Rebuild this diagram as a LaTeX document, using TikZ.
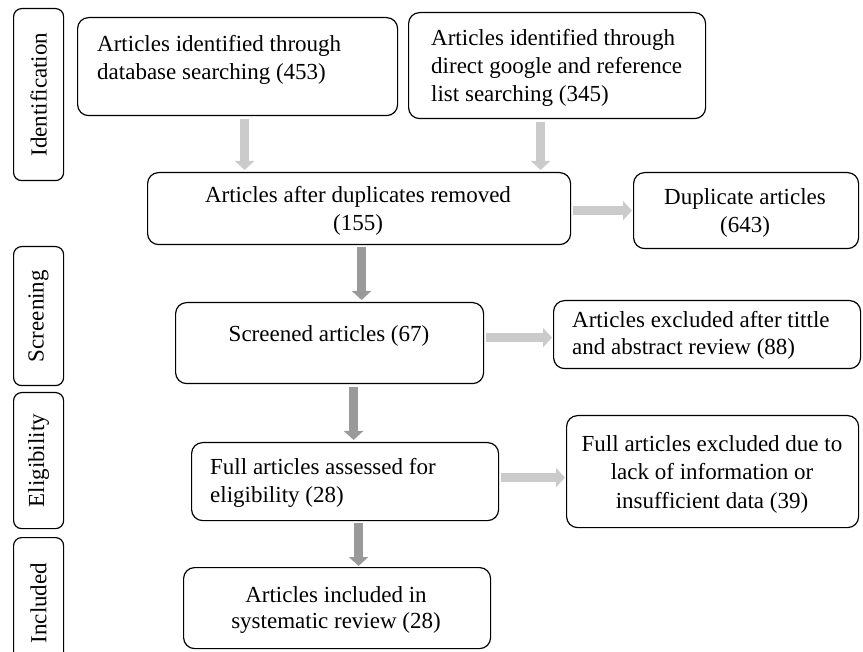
\documentclass[tikz,border=0pt]{standalone}
\usepackage{fontspec}
\setmainfont{Liberation Serif}
\usetikzlibrary{arrows.meta}
\definecolor{lightarrow}{HTML}{CBCBCB}
\definecolor{darkarrow}{HTML}{9A9A9A}
\definecolor{darkedge}{HTML}{7A7A7A}
\begin{document}
\begin{tikzpicture}[x=1pt,y=-1pt,
  box/.style={draw, line width=1.2pt, rounded corners=11pt, inner sep=0pt, anchor=north west},
  lab/.style={draw, line width=1.2pt, rounded corners=8pt, inner sep=0pt, anchor=north west, minimum width=50pt},
  txt/.style={inner sep=0pt, font=\fontsize{23}{28}\selectfont},
  ltxt/.style={txt, anchor=base west},
  ctxt/.style={txt, anchor=base},
  rtxt/.style={txt, rotate=90},
  larr/.style={draw=lightarrow, line width=9pt, -{Triangle[length=9pt,width=19pt]}, lightarrow},
  darr/.style={draw=darkarrow, line width=9pt, -{Triangle[length=9pt,width=19pt]}, darkarrow}
]
\useasboundingbox (0,0) rectangle (863,652);

% stage labels
\node[lab, minimum height=172pt] (L1) at (13,8) {};
\node[lab, minimum height=139pt] (L2) at (13,246) {};
\node[lab, minimum height=136pt] (L3) at (13,392) {};
\node[lab, minimum height=123pt] (L4) at (13,537) {};
\node[rtxt] (L1t) at (L1.center) {Identification};
\node[rtxt] (L2t) at (L2.center) {Screening};
\node[rtxt] (L3t) at (L3.center) {Eligibility};
\node[rtxt] (L4t) at ([yshift=-4pt]L4.center) {Included};

% boxes
\node[box, minimum width=320pt, minimum height=98pt] (A) at (77,17) {};
\node[box, minimum width=297pt, minimum height=106pt] (B) at (408,12) {};
\node[box, minimum width=423pt, minimum height=72pt] (C) at (147,172) {};
\node[box, minimum width=225pt, minimum height=76pt] (D) at (633,172) {};
\node[box, minimum width=308pt, minimum height=81pt] (E) at (175,302) {};
\node[box, minimum width=307pt, minimum height=68pt] (F) at (553,300) {};
\node[box, minimum width=307pt, minimum height=78pt] (G) at (191,442) {};
\node[box, minimum width=292pt, minimum height=112pt] (H) at (566,415) {};
\node[box, minimum width=307pt, minimum height=81pt] (I) at (183,567) {};

% texts
\node[ltxt] (A1) at (97,52) {Articles identified through};
\node[ltxt] (A2) at (97,80) {database searching (453)};
\node[ltxt] (B1) at (431,46) {Articles identified through};
\node[ltxt] (B2) at (431,74) {direct google and reference};
\node[ltxt] (B3) at (431,102) {list searching (345)};
\node[ctxt] (C1) at (358,203) {Articles after duplicates removed};
\node[ctxt] (C2) at (358,231) {(155)};
\node[ctxt] (D1) at (745,205) {Duplicate articles};
\node[ctxt] (D2) at (745,233) {(643)};
\node[ctxt] (E1) at (329,342) {Screened articles (67)};
\node[ltxt] (F1) at (572,328) {Articles excluded after tittle};
\node[ltxt] (F2) at (572,355) {and abstract review (88)};
\node[ltxt] (G1) at (210,475) {Full articles assessed for};
\node[ltxt] (G2) at (210,503) {eligibility (28)};
\node[ctxt] (H1) at (712,452) {Full articles excluded due to};
\node[ctxt] (H2) at (712,480) {lack of information or};
\node[ctxt] (H3) at (712,508) {insufficient data (39)};
\node[ctxt] (I1) at (336,602) {Articles included in};
\node[ctxt] (I2) at (336,628) {systematic review (28)};

% arrows
\draw[larr] ([xshift=7pt,yshift=-3pt]A.south) -- ([xshift=-114.5pt,yshift=2pt]C.north);
\draw[larr] ([xshift=-16.5pt,yshift=-3pt]B.south) -- ([xshift=181.5pt,yshift=2pt]C.north);
\draw[larr] ([xshift=2pt,yshift=-2pt]C.east) -- ([xshift=-1pt]D.west);
\draw[darr] ([xshift=2.5pt,yshift=-2pt]C.south) -- ([xshift=32pt,yshift=2pt]E.north);
\draw[larr] ([xshift=2pt,yshift=5.5pt]E.east) -- ([xshift=-1pt,yshift=-3pt]F.west);
\draw[darr] ([xshift=24pt,yshift=-3pt]E.south) -- ([xshift=8.5pt,yshift=2pt]G.north);
\draw[larr] ([xshift=2pt,yshift=4pt]G.east) -- ([xshift=-1pt,yshift=-6pt]H.west);
\draw[darr] ([xshift=13.5pt,yshift=-2pt]G.south) -- ([xshift=21.5pt,yshift=1pt]I.north);
\end{tikzpicture}
\end{document}
